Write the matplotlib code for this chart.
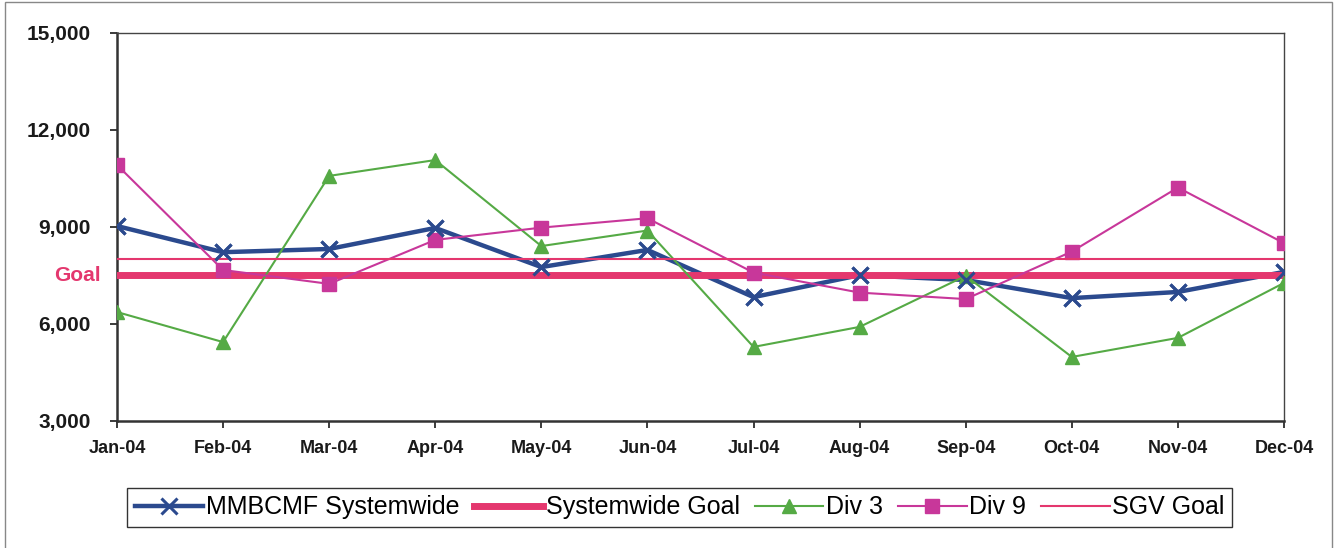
import numpy as np
import matplotlib
matplotlib.use("Agg")
import matplotlib.pyplot as plt
from matplotlib.patches import Rectangle
from matplotlib.transforms import blended_transform_factory

plt.rcParams["font.family"] = ["Liberation Sans", "DejaVu Sans"]

months = ["Jan-04", "Feb-04", "Mar-04", "Apr-04", "May-04", "Jun-04",
          "Jul-04", "Aug-04", "Sep-04", "Oct-04", "Nov-04", "Dec-04"]
systemwide = [9030, 8220, 8320, 8970, 7760, 8290, 6830, 7510, 7360, 6800, 6990, 7610]
div3 = [6370, 5440, 10580, 11070, 8410, 8890, 5290, 5910, 7490, 4980, 5570, 7270]
div9 = [10920, 7670, 7240, 8600, 8980, 9270, 7590, 6970, 6770, 8240, 10220, 8500]
systemwide_goal = [7500] * 12
sgv_goal = [8000] * 12
yticks = [3000, 6000, 9000, 12000, 15000]

BLUE = "#2B4A8E"
PINK = "#E4376E"
GREEN = "#55AA45"
MAGENTA = "#C8379A"

fig = plt.figure(figsize=(13.35, 5.48), dpi=100)
ax = fig.add_axes([0.0876, 0.2318, 0.8742, 0.708])
x = np.arange(len(months))

ax.plot(x, systemwide, color=BLUE, lw=3.2, marker="x", ms=11, mew=2.2,
        label="MMBCMF Systemwide", zorder=3)
ax.plot(x, systemwide_goal, color=PINK, lw=5, label="Systemwide Goal", zorder=4)
ax.plot(x, div3, color=GREEN, lw=1.5, marker="^", ms=10, mec=GREEN,
        label="Div 3", zorder=5)
ax.plot(x, div9, color=MAGENTA, lw=1.5, marker="s", ms=9.5, mec=MAGENTA,
        label="Div 9", zorder=5)
ax.plot(x, sgv_goal, color=PINK, lw=1.5, label="SGV Goal", zorder=5)
# blue markers stay visible above the goal band
ax.plot(x, systemwide, ls="none", color=BLUE, marker="x", ms=11, mew=2.2,
        zorder=6)

ax.set_xlim(0, len(months) - 1)
ax.set_ylim(3000, 15000)
ax.set_xticks(x)
ax.set_xticklabels(months, fontsize=13, fontweight="bold")
ax.set_yticks(yticks)
ax.set_yticklabels([f"{v:,}" for v in yticks], fontsize=15, fontweight="bold")
ax.tick_params(axis="y", length=5, width=1.2, pad=14, colors="#1a1a1a")
ax.tick_params(axis="x", length=5, width=1.2, pad=9, colors="#1a1a1a")
for side in ("left", "bottom"):
    ax.spines[side].set_linewidth(1.8)
    ax.spines[side].set_color("#333333")
for side in ("top", "right"):
    ax.spines[side].set_linewidth(1.0)
    ax.spines[side].set_color("#444444")

trans = blended_transform_factory(ax.transAxes, ax.transData)
ax.text(-0.0135, 7500, "Goal", transform=trans, ha="right", va="center",
        fontsize=15, fontweight="bold", color=PINK)

leg = fig.legend(loc="center", bbox_to_anchor=(0.509, 0.074), ncol=5,
                 fontsize=18, frameon=True, fancybox=False, framealpha=1,
                 edgecolor="#333333", handlelength=2.75, handletextpad=0.1,
                 columnspacing=0.6, borderpad=0.3, borderaxespad=0)
leg.get_frame().set_linewidth(1.0)

fig.patches.append(Rectangle((0.004, -0.01), 0.994, 1.006, transform=fig.transFigure,
                             fill=False, edgecolor="#888888", lw=1.0))

fig.savefig("out.png", dpi=100)
